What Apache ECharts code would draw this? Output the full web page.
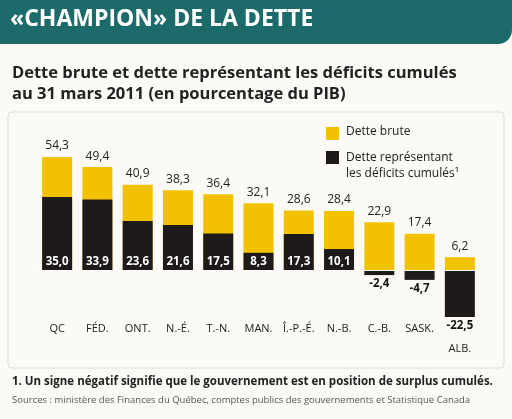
<!DOCTYPE html>
<html><head><meta charset="utf-8">
<script src="https://cdn.jsdelivr.net/npm/echarts@6/dist/echarts.min.js"></script>
<style>html,body{margin:0;background:#fbfaf7}#c{width:512px;height:419px}</style>
</head><body><div id="c"></div>
<script>
// données
var provinces = ['QC', 'FÉD.', 'ONT.', 'N.-É.', 'T.-N.', 'MAN.', 'Î.-P.-É.', 'N.-B.', 'C.-B.', 'SASK.', 'ALB.'];
var detteBrute = [54.3, 49.4, 40.9, 38.3, 36.4, 32.1, 28.6, 28.4, 22.9, 17.4, 6.2];
var detteDeficits = [35.0, 33.9, 23.6, 21.6, 17.5, 8.3, 17.3, 10.1, -2.4, -4.7, -22.5];

var fmt = function(v){ return v.toFixed(1).replace('.', ','); };
var chart = echarts.init(document.getElementById('c'));
var font = 'Open Sans';

var blackData = detteDeficits.map(function(v){
    return {
        value: v,
        label: v >= 0
            ? {show: true, position: 'insideBottom', color: '#fff', distance: 2}
            : {show: true, position: 'bottom', color: '#111', distance: 3}
    };
});

chart.setOption({
    textStyle: {fontFamily: font},
    graphic: [
        {type: 'rect', shape: {x: 0, y: 0, width: 512, height: 44, r: [0, 0, 14, 0]}, style: {fill: '#1c6b6a'}},
        {type: 'text', left: 10, top: 8, style: {text: '«CHAMPION» DE LA DETTE', fill: '#fff', font: 'bold 23px "Open Sans"'}},
        {type: 'text', left: 12, top: 63, style: {text: 'Dette brute et dette représentant les déficits cumulés\nau 31 mars 2011 (en pourcentage du PIB)', fill: '#222', font: 'bold 16.5px "Open Sans"', lineHeight: 21}},
        {type: 'rect', shape: {x: 8, y: 112, width: 496, height: 256, r: 4}, style: {fill: 'none', stroke: '#ddd'}},
        {type: 'rect', shape: {x: 326, y: 127, width: 13, height: 13}, style: {fill: '#f2c200'}},
        {type: 'text', left: 346, top: 126, style: {text: 'Dette brute', fill: '#222', font: '12px "Open Sans"'}},
        {type: 'rect', shape: {x: 326, y: 151, width: 13, height: 13}, style: {fill: '#1e1a1a'}},
        {type: 'text', left: 346, top: 150, style: {text: 'Dette représentant\nles déficits cumulés¹', fill: '#222', font: '12px "Open Sans"', lineHeight: 16}},
        {type: 'text', left: 12, top: 376, style: {text: '1. Un signe négatif signifie que le gouvernement est en position de surplus cumulés.', fill: '#222', font: 'bold 11.5px "Open Sans"'}},
        {type: 'text', left: 12, top: 395, style: {text: 'Sources : ministère des Finances du Québec, comptes publics des gouvernements et Statistique Canada', fill: '#555', font: '9.5px "Open Sans"'}}
    ],
    grid: {left: 37, right: 32, top: 145, height: 172},
    xAxis: {
        type: 'category', data: provinces,
        axisLine: {show: false}, axisTick: {show: false},
        axisLabel: {
            interval: 0,
            color: '#222', fontSize: 11, margin: 6,
            formatter: function(v){ return v === 'ALB.' ? '{alb|' + v + '}' : v; },
            rich: {alb: {padding: [20, 0, 0, 0], fontSize: 11, color: '#222'}}
        }
    },
    yAxis: {type: 'value', min: -22.5, max: 60, show: false, splitLine: {show: false}},
    series: [
        {
            type: 'bar', data: detteBrute, barWidth: 30,
            itemStyle: {color: '#f2c200'},
            label: {show: true, position: 'top', color: '#222', fontSize: 12, formatter: function(p){ return fmt(p.value); }}
        },
        {
            type: 'bar', data: blackData, barWidth: 30, barGap: '-100%',
            itemStyle: {color: '#1e1a1a'},
            label: {fontWeight: 'bold', fontSize: 11.5, formatter: function(p){ return fmt(p.value); }},
            markLine: {silent: true, symbol: 'none', label: {show: false}, lineStyle: {color: '#fff', width: 1, type: 'solid'}, data: [{yAxis: 0}]}
        }
    ]
});
</script>
</body></html>
